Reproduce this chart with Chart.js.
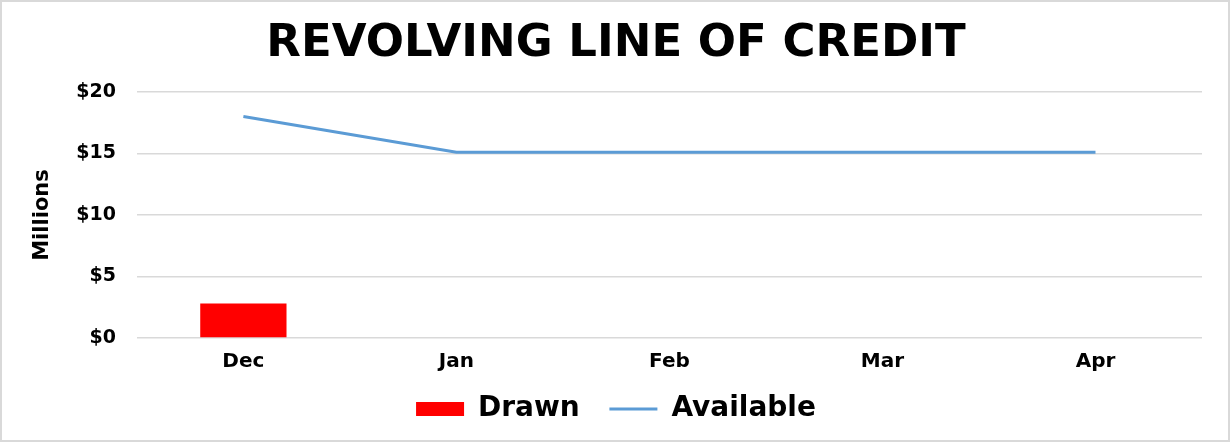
<!DOCTYPE html>
<html>
<head>
<meta charset="utf-8">
<script src="https://cdn.jsdelivr.net/npm/chart.js@4/dist/chart.umd.min.js"></script>
<style>
  body { margin: 0; background: #fff; }
  #wrap { position: relative; width: 1230px; height: 442px; box-sizing: border-box; border: 2px solid #d9d9d9; }
  canvas { position: absolute; left: 0; top: 0; }
</style>
</head>
<body>
<div id="wrap"><canvas id="chart" width="1226" height="438"></canvas></div>
<script>
const months = ['Dec', 'Jan', 'Feb', 'Mar', 'Apr'];
const drawn = [2.8, 0, 0, 0, 0];
const available = [18, 15.1, 15.1, 15.1, 15.1];
const yTicks = [0, 5, 10, 15, 20];

const FONT = "'DejaVu Sans', Arial, sans-serif";

const ctx = document.getElementById('chart').getContext('2d');
new Chart(ctx, {
    data: {
        labels: months,
        datasets: [
            {
                type: 'bar',
                label: 'Drawn',
                data: drawn,
                backgroundColor: '#ff0000',
                categoryPercentage: 1,
                barPercentage: 0.405,
                order: 2
            },
            {
                type: 'line',
                label: 'Available',
                data: available,
                borderColor: '#5b9bd5',
                borderWidth: 3,
                pointRadius: 0,
                tension: 0,
                fill: false,
                order: 1
            }
        ]
    },
    options: {
        responsive: false,
        animation: false,
        layout: { padding: { left: 28, right: 26, top: 10, bottom: 7 } },
        plugins: {
            title: {
                display: true,
                text: 'REVOLVING LINE OF CREDIT',
                color: '#000',
                font: { family: FONT, size: 45, weight: 'bold' },
                padding: { top: 5, bottom: 21 }
            },
            legend: {
                position: 'bottom',
                labels: {
                    color: '#000',
                    font: { family: FONT, size: 28, weight: 'bold', lineHeight: 1 },
                    usePointStyle: true,
                    pointStyleWidth: 48,
                    boxHeight: 14,
                    padding: 10,
                    // trailing spaces widen the gap between the two legend items
                    generateLabels: chart => chart.data.datasets.map((ds, i) => ({
                        text: ds.type === 'bar' ? ds.label + '\u2002\u2009' : ds.label,
                        fillStyle: ds.type === 'bar' ? ds.backgroundColor : 'transparent',
                        strokeStyle: ds.type === 'bar' ? ds.backgroundColor : ds.borderColor,
                        lineWidth: ds.type === 'bar' ? 0 : 3,
                        pointStyle: ds.type === 'bar' ? 'rect' : 'line',
                        fontColor: '#000',
                        datasetIndex: i
                    }))
                }
            },
            tooltip: { enabled: false }
        },
        scales: {
            x: {
                grid: { display: false },
                border: { display: false },
                afterFit: scale => { scale.height += 7; },
                ticks: {
                    color: '#000',
                    font: { family: FONT, size: 20, weight: 'bold' },
                    padding: 4
                }
            },
            y: {
                min: 0,
                max: 20,
                afterBuildTicks: axis => { axis.ticks = yTicks.map(v => ({ value: v })); },
                grid: { color: '#d9d9d9', lineWidth: 1.5, drawTicks: false },
                border: { display: false },
                ticks: {
                    color: '#000',
                    font: { family: FONT, size: 19, weight: 'bold' },
                    padding: 21,
                    callback: v => '$' + v
                },
                title: {
                    display: true,
                    text: 'Millions',
                    color: '#000',
                    font: { family: FONT, size: 21, weight: 'bold' },
                    padding: { top: 0, bottom: 0 }
                }
            }
        }
    }
});
</script>
</body>
</html>
